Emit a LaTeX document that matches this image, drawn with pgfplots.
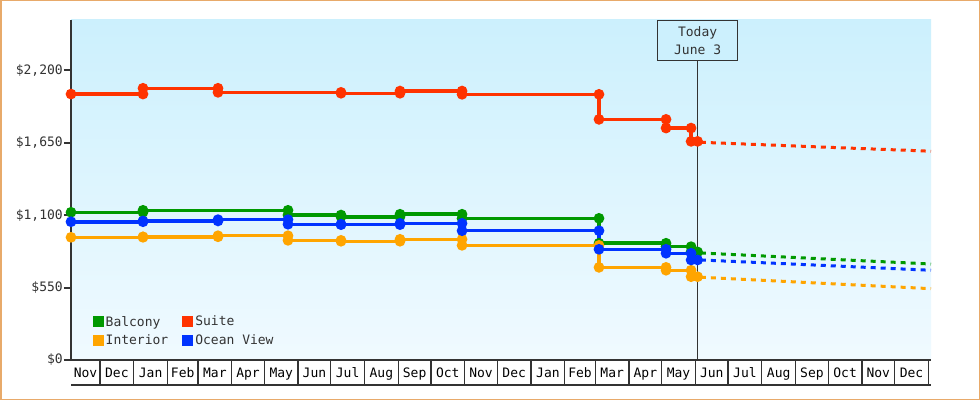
\documentclass[border=0pt]{standalone}
\usepackage{fontspec}
\setmainfont{DejaVu Sans Mono}
\usepackage{pgfplots}
\pgfplotsset{compat=1.18}
\definecolor{cBal}{HTML}{009900}
\definecolor{cSui}{HTML}{FF3300}
\definecolor{cInt}{HTML}{FFA500}
\definecolor{cOce}{HTML}{0033FF}
\definecolor{axg}{HTML}{333333}
\definecolor{bgtop}{HTML}{CCF0FD}
\definecolor{bgbot}{HTML}{F0FAFF}
\definecolor{framec}{HTML}{E8AA6A}
\begin{document}
\begin{tikzpicture}
\useasboundingbox (0,0) rectangle (980pt,400pt);
\fill[white] (0,0) rectangle (980pt,400pt);
\draw[framec, line width=1.5pt] (0.75pt,0.75pt) rectangle (979.25pt,399.25pt);
\begin{axis}[
  name=ax, at={(71pt,40pt)}, anchor=south west,
  scale only axis, width=860pt, height=340pt,
  xmin=3.36, xmax=793.4, ymin=0, ymax=2580,
  clip=false,
  axis x line*=bottom, axis y line*=left,
  axis line style={-, line width=2pt, color=axg},
  axis background/.style={top color=bgtop, bottom color=bgbot},
  font=\fontsize{13}{15.6}\selectfont,
  /pgf/number format/assume math mode=true,
  tick align=outside, major tick length=7pt,
  ytick={0,550,1100,1650,2200},
  yticklabels={{\$0},{\$550},{\$1,100},{\$1,650},{\$2,200}},
  ytick style={line width=2pt, color=axg},
  yticklabel style={color=axg, inner sep=1pt},
  xtick={16.7,45.5,76.5,106,135.5,166,196.5,227,257.5,288.5,319,349.5,380,410.5,441.5,471,500.5,531,561.5,592,622.5,653.5,684,714.5,745,775.5},
  xticklabels={Nov,Dec,Jan,Feb,Mar,Apr,May,Jun,Jul,Aug,Sep,Oct,Nov,Dec,Jan,Feb,Mar,Apr,May,Jun,Jul,Aug,Sep,Oct,Nov,Dec},
  xtick style={draw=none},
  xticklabel style={color=black, anchor=base, yshift=-10.5pt},
  legend columns=2,
  legend cell align=left,
  legend style={draw=none, fill=none, at={(axis description cs:0.025,0.035)}, anchor=south west,
    font=\fontsize{13}{15.6}\selectfont, text=axg, inner sep=0pt, row sep=3pt,
    /tikz/every even column/.append style={column sep=12pt}},
  legend image code/.code={\fill[#1, draw=none] (0pt,-5.5pt) rectangle (11pt,5.5pt);},
  every axis plot/.append style={line width=3.5pt, mark=*, mark size=3.5pt, mark options={draw=none, solid}},
]
\pgfplotsinvokeforeach{30,61,92,120,151,181,212,242,273,304,334,365,395,426,457,485,516,546,577,607,638,669,699,730,760,791}{
  \draw[axg, line width=1.3pt] (axis cs:#1,0) -- ++(0pt,-25pt);
}
\draw[axg, line width=1pt] (axis cs:579,0) -- (axis cs:579,2276);

\addplot[color=cBal] coordinates {(3.36,1121) (69.5,1121) (69.5,1136) (202.7,1136) (202.7,1100) (251.4,1100) (251.4,1087) (305.6,1087) (305.6,1106) (362.6,1106) (362.6,1075) (488.4,1075) (488.4,886) (550,886) (550,860) (573,860) (573,820) (579,820)};
\addlegendentry{Balcony}
\addplot[color=cSui] coordinates {(3.36,2018) (69.5,2018) (69.5,2062) (138.4,2062) (138.4,2031) (251.4,2031) (251.4,2024) (305.6,2024) (305.6,2041) (362.6,2041) (362.6,2016) (488.4,2016) (488.4,1826) (550,1826) (550,1760) (573,1760) (573,1659) (579,1659)};
\addlegendentry{Suite}
\addplot[color=cInt] coordinates {(3.36,931) (69.5,931) (69.5,935) (138.4,935) (138.4,943) (202.7,943) (202.7,908) (251.4,908) (251.4,901) (305.6,901) (305.6,916) (362.6,916) (362.6,870) (488.4,870) (488.4,703) (550,703) (550,681) (573,681) (573,632) (579,632)};
\addlegendentry{Interior}
\addplot[color=cOce] coordinates {(3.36,1049) (69.5,1049) (69.5,1055) (138.4,1055) (138.4,1065) (202.7,1065) (202.7,1030) (251.4,1030) (251.4,1027) (305.6,1027) (305.6,1037) (362.6,1037) (362.6,981) (488.4,981) (488.4,840) (550,840) (550,810) (573,810) (573,759) (579,759)};
\addlegendentry{Ocean View}

\addplot[forget plot, color=cBal, no marks, line width=3pt, dash pattern=on 5pt off 5pt] coordinates {(582,812) (653,784) (718,758) (782,733) (793.4,728)};
\addplot[forget plot, color=cSui, no marks, line width=3pt, dash pattern=on 5pt off 5pt] coordinates {(582,1652) (653,1629) (718,1608) (782,1588) (793.4,1584)};
\addplot[forget plot, color=cInt, no marks, line width=3pt, dash pattern=on 5pt off 5pt] coordinates {(582,628) (653,599) (718,572) (782,546) (793.4,541)};
\addplot[forget plot, color=cOce, no marks, line width=3pt, dash pattern=on 5pt off 5pt] coordinates {(582,759) (653,733) (718,709) (782,685) (793.4,681)};

\node[draw=axg, line width=1pt, fill=bgtop, minimum width=80pt, minimum height=40pt, align=center, anchor=north, inner sep=0pt, text=axg, font=\fontsize{13}{18}\selectfont] at (axis cs:579,2580) {Today\\June 3};
\end{axis}
\draw[axg, line width=1.5pt] ([yshift=-25pt]ax.south west) -- ([yshift=-25pt]ax.south east);
\end{tikzpicture}
\end{document}
